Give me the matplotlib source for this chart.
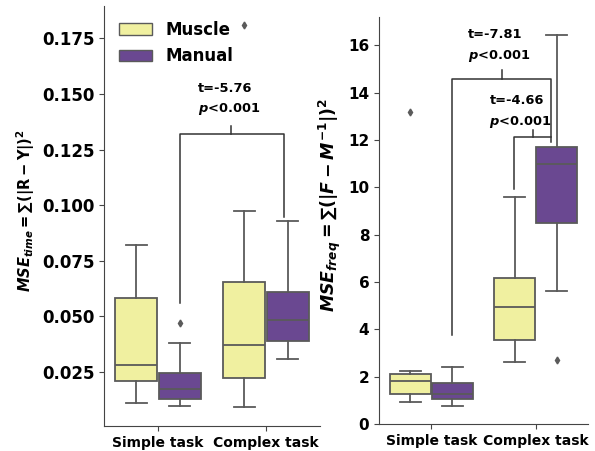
import matplotlib
matplotlib.use("Agg")
import matplotlib.pyplot as plt
from matplotlib.patches import Patch

# ---------------------------
# Data
# order: simple-muscle, simple-manual, complex-muscle, complex-manual
# ---------------------------
categories = ["Simple task", "Complex task"]
groups = ["Muscle", "Manual"]
colors = ["#f0f0a0", "#6a4891"]

time_lo = [0.0111, 0.0099, 0.0092, 0.0308]
time_q1 = [0.0211, 0.0130, 0.0222, 0.0389]
time_med = [0.0283, 0.0172, 0.0374, 0.0482]
time_q3 = [0.0582, 0.0244, 0.0657, 0.0610]
time_hi = [0.0820, 0.0383, 0.0976, 0.0930]
time_out = [[], [0.0469], [0.1808], []]

freq_lo = [0.94, 0.76, 2.63, 5.64]
freq_q1 = [1.28, 1.07, 3.53, 8.49]
freq_med = [1.81, 1.25, 4.95, 10.97]
freq_q3 = [2.10, 1.74, 6.19, 11.70]
freq_hi = [2.25, 2.39, 9.59, 16.46]
freq_out = [[13.2], [], [], [2.70]]

plt.rcParams["mathtext.fontset"] = "custom"
plt.rcParams["mathtext.it"] = "DejaVu Sans:italic:bold"
plt.rcParams["mathtext.rm"] = "DejaVu Sans:bold"
plt.rcParams["mathtext.bf"] = "DejaVu Sans:bold"

EDGE = "#5a5a5a"
SPINE = "#444444"


def draw_boxes(ax, lo, q1, med, q3, hi, out):
    stats = []
    positions = []
    for i in range(len(lo)):
        stats.append(dict(whislo=lo[i], q1=q1[i], med=med[i], q3=q3[i],
                          whishi=hi[i], fliers=out[i]))
        positions.append(i // 2 + (-0.2 if i % 2 == 0 else 0.2))
    bp = ax.bxp(stats, positions=positions, widths=0.39, capwidths=0.2,
                patch_artist=True, manage_ticks=False,
                boxprops=dict(edgecolor=EDGE, linewidth=1.3),
                medianprops=dict(color=EDGE, linewidth=1.3),
                whiskerprops=dict(color=EDGE, linewidth=1.3),
                capprops=dict(color=EDGE, linewidth=1.3),
                flierprops=dict(marker="d", markersize=3.5, markerfacecolor=EDGE,
                                markeredgecolor=EDGE))
    for i, b in enumerate(bp["boxes"]):
        b.set_facecolor(colors[i % 2])
    ax.set_xlim(-0.5, 1.5)
    ax.set_xticks([0, 1])
    ax.set_xticklabels(categories, fontsize=10, fontweight="bold")
    for s in ["top", "right"]:
        ax.spines[s].set_visible(False)
    for s in ["left", "bottom"]:
        ax.spines[s].set_color(SPINE)
    ax.tick_params(colors=SPINE, labelcolor="black")


def bracket(ax, x1, x2, top, y1, y2, xm, tick):
    ax.plot([x1, x1, x2, x2], [y1, top, top, y2], color="#333333", lw=1.1)
    ax.plot([xm, xm], [top, top + tick], color="#333333", lw=1.1)


def stat_text(ax, xt, yt, t, xp, yp):
    ax.text(xt, yt, t, ha="center", va="center", fontsize=9.4, fontweight="bold")
    ax.text(xp, yp, "$p$<0.001", ha="center", va="center", fontsize=9.4,
            fontweight="bold")


fig = plt.figure(figsize=(5.95, 4.51), dpi=100)
ax1 = fig.add_axes([104 / 595, 25 / 451, 216 / 595, 420 / 451])
ax2 = fig.add_axes([379 / 595, 27 / 451, 209 / 595, 407 / 451])

# left panel: time
draw_boxes(ax1, time_lo, time_q1, time_med, time_q3, time_hi, time_out)
ax1.set_ylim(0.0008, 0.1895)
ax1.set_yticks([0.025, 0.05, 0.075, 0.1, 0.125, 0.15, 0.175])
ax1.set_yticklabels(["0.025", "0.050", "0.075", "0.100", "0.125", "0.150", "0.175"],
                    fontsize=12, fontweight="bold")
ax1.set_ylabel(r"$MSE_{time} = \sum(|\mathrm{R-Y}|)^2$", fontsize=10.5)
ax1.yaxis.set_label_coords(-0.31, 0.512)
bracket(ax1, 0.2, 1.165, 0.1322, 0.056, 0.0946, 0.68, 0.0036)
stat_text(ax1, 0.623, 0.1524, "t=-5.76", 0.657, 0.143)
ax1.legend(handles=[Patch(facecolor=colors[0], edgecolor=EDGE),
                    Patch(facecolor=colors[1], edgecolor=EDGE)],
           labels=groups, loc="upper left", frameon=False,
           prop=dict(size=12, weight="bold"))

# right panel: frequency
draw_boxes(ax2, freq_lo, freq_q1, freq_med, freq_q3, freq_hi, freq_out)
ax2.set_ylim(0, 17.2)
ax2.set_yticks([0, 2, 4, 6, 8, 10, 12, 14, 16])
ax2.set_yticklabels([str(v) for v in [0, 2, 4, 6, 8, 10, 12, 14, 16]],
                    fontsize=11, fontweight="bold")
ax2.set_ylabel(r"$MSE_{freq} = \sum(|F-M^{-1}|)^2$", fontsize=12.5)
ax2.yaxis.set_label_coords(-0.172, 0.538)
bracket(ax2, 0.2, 1.15, 14.56, 3.76, 11.9, 0.673, 0.41)
stat_text(ax2, 0.61, 16.46, "t=-7.81", 0.65, 15.57)
bracket(ax2, 0.793, 1.15, 12.12, 9.94, 12.12, 0.971, 0.31)
stat_text(ax2, 0.82, 13.67, "t=-4.66", 0.85, 12.76)

fig.savefig("out.png", dpi=100)
